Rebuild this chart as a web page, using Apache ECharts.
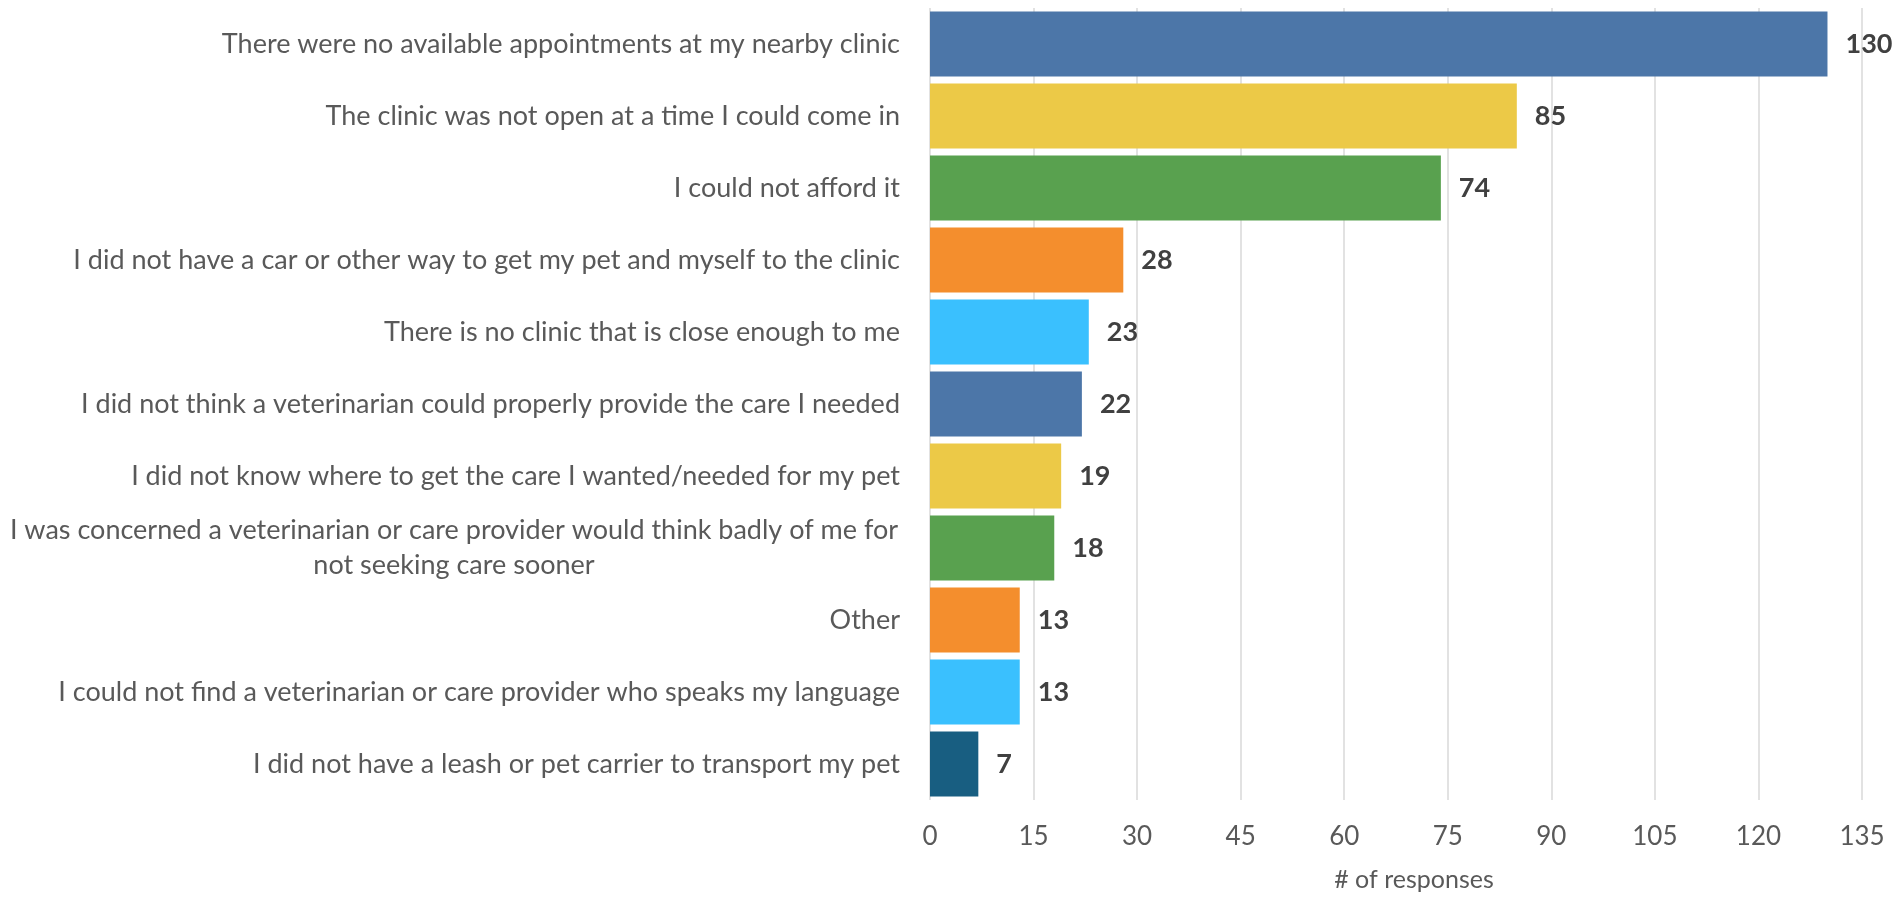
<!DOCTYPE html>
<html>
<head>
<meta charset="utf-8">
<script src="https://cdn.jsdelivr.net/npm/echarts@6/dist/echarts.min.js"></script>
<style>
  html, body { margin: 0; padding: 0; background: #fff; }
  #bar { width: 1901px; height: 906px; }
</style>
</head>
<body>
<div id="bar"></div>
<script>
// reasons, top to bottom as in the picture
const reasons = [
  'There were no available appointments at my nearby clinic',
  'The clinic was not open at a time I could come in',
  'I could not afford it',
  'I did not have a car or other way to get my pet and myself to the clinic',
  'There is no clinic that is close enough to me',
  'I did not think a veterinarian could properly provide the care I needed',
  'I did not know where to get the care I wanted/needed for my pet',
  'I was concerned a veterinarian or care provider would think badly of me for\nnot seeking care sooner',
  'Other',
  'I could not find a veterinarian or care provider who speaks my language',
  'I did not have a leash or pet carrier to transport my pet'
];
const responses = [130, 85, 74, 28, 23, 22, 19, 18, 13, 13, 7];
const barColors = ['#4C76A8', '#ECC947', '#59A14F', '#F48E2D', '#3AC0FE',
  '#4C76A8', '#ECC947', '#59A14F', '#F48E2D', '#3AC0FE', '#185E81'];
const xTicks = {min: 0, max: 135, step: 15};

const textGrey = '#595959';
const font = 'Lato';

let chart = echarts.init(document.getElementById('bar'));

let option = {
  backgroundColor: '#fff',
  textStyle: {fontFamily: font},
  grid: {
    left: 930,
    right: 39,
    top: 8,
    bottom: 106
  },
  xAxis: {
    type: 'value',
    min: xTicks.min,
    max: xTicks.max,
    interval: xTicks.step,
    name: '# of responses',
    nameLocation: 'middle',
    nameGap: 67,
    nameTextStyle: {color: textGrey, fontSize: 25, fontFamily: font, padding: [0, 0, 0, 36]},
    axisLine: {show: false},
    axisTick: {show: false},
    axisLabel: {color: textGrey, fontSize: 26, fontFamily: font, margin: 24},
    splitLine: {lineStyle: {color: '#D9D9D9', width: 1.5}}
  },
  yAxis: {
    type: 'category',
    inverse: true,
    data: reasons,
    axisLine: {show: false},
    axisTick: {show: false},
    axisLabel: {
      color: textGrey,
      fontSize: 27,
      fontFamily: font,
      margin: 30,
      interval: 0,
      formatter: function (v) {
        if (v.indexOf('\n') < 0) return v;
        // wrapped label: lines centred on each other like Excel does
        return v.split('\n').map(function (s) { return '{w|' + s + '}'; }).join('\n');
      },
      rich: {
        w: {width: 892, align: 'center', color: textGrey, fontSize: 27, fontFamily: font, lineHeight: 35}
      }
    }
  },
  series: [
    {
      type: 'bar',
      barCategoryGap: '10%',
      data: responses.map(function (v, i) {
        return {value: v, itemStyle: {color: barColors[i]}};
      }),
      label: {
        show: true,
        position: 'right',
        distance: 18,
        color: '#404040',
        fontWeight: 'bold',
        fontSize: 27,
        fontFamily: font
      },
      animation: false
    }
  ]
};

chart.setOption(option);
</script>
</body>
</html>
